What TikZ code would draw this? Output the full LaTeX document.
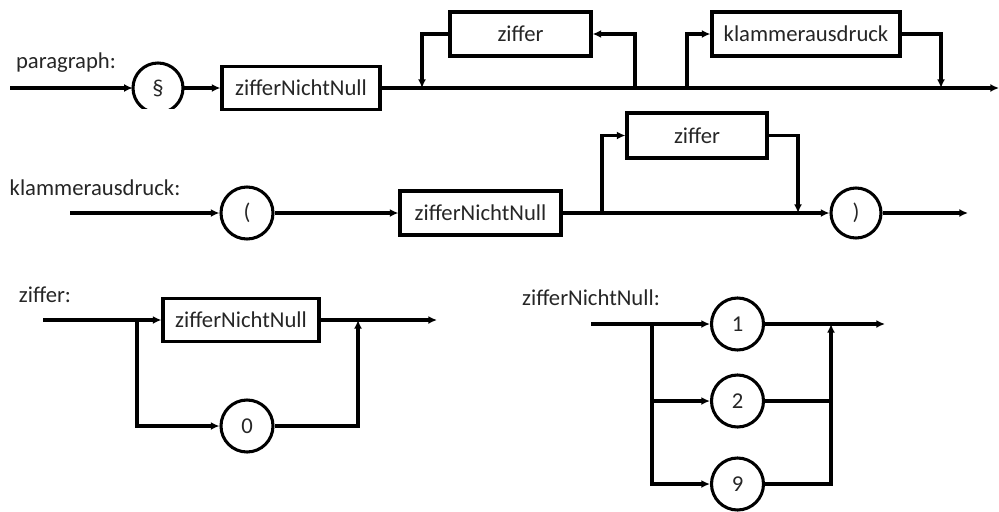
\documentclass[tikz,border=0pt]{standalone}
\usepackage{fontspec}
\setmainfont{Carlito}
\usetikzlibrary{arrows.meta}
\begin{document}
\begin{tikzpicture}[x=0.75pt,y=-0.75pt,
  every node/.style={font=\fontsize{17}{20}\selectfont, text=black!85},
  ln/.style={line width=2.3pt, draw=black},
  ar/.style={ln, -{Latex[length=6.5pt,width=6pt]}},
  boxnode/.style={draw=black, line width=2.3pt, rectangle, inner sep=0pt},
  term/.style={draw=black, line width=2.3pt, circle, inner sep=0pt, minimum size=39pt},
  lbl/.style={inner sep=0pt}]
\useasboundingbox (0,0) rectangle (999,511);

% ---------- paragraph ----------
\node[lbl] (lpar) at (66,63) {paragraph:};
\coordinate (p0) at (10,88);
\node[circle, inner sep=0pt, minimum size=37.5pt] (sect) at (158,88) {§};
\begin{scope}
  \clip (100,40) rectangle (220,108);
  \draw[ln] (sect.center) circle[radius=25];
\end{scope}
\node[boxnode, minimum width=118.5pt, minimum height=32.25pt] (zn1) at (301,88) {zifferNichtNull};
\node[boxnode, minimum width=105.75pt, minimum height=33pt] (zf1) at (520.5,34) {ziffer};
\node[boxnode, minimum width=141pt, minimum height=33pt] (kl1) at (806,34) {klammerausdruck};
\coordinate (pend) at (999,88);
\coordinate (j1) at (635,88);
\coordinate (j2) at (422,88);
\coordinate (j3) at (687,88);
\coordinate (j4) at (941,88);

\draw[ar] (p0) -- (sect.west);
\draw[ar] (sect.east) -- (zn1.west);
\draw[ar] (zn1.east) -- (pend);
\draw[ar] (j1) |- (zf1.east);
\draw[ar] (zf1.west) -| (j2);
\draw[ar] (j3) |- (kl1.west);
\draw[ar] (kl1.east) -| (j4);

% ---------- klammerausdruck ----------
\node[lbl] (lkl) at (95,188) {klammerausdruck:};
\coordinate (k0) at (70,213);
\node[term] (lp) at (247,213) {(};
\node[boxnode, minimum width=120.75pt, minimum height=33pt] (zn2) at (480.5,213) {zifferNichtNull};
\node[term, minimum size=37.5pt] (rp) at (856,213) {)};
\node[boxnode, minimum width=105pt, minimum height=33.75pt] (zf2) at (697,135.5) {ziffer};
\coordinate (kend) at (968,213);
\coordinate (j5) at (602,213);
\coordinate (j6) at (798,213);

\draw[ar] (k0) -- (lp.west);
\draw[ar] (lp.east) -- (zn2.west);
\draw[ar] (zn2.east) -- (rp.west);
\draw[ar] (rp.east) -- (kend);
\draw[ar] (j5) |- (zf2.west);
\draw[ar] (zf2.east) -| (j6);

% ---------- ziffer ----------
\node[lbl] (lzf) at (45,295) {ziffer:};
\coordinate (z0) at (43,320);
\node[boxnode, minimum width=117pt, minimum height=32.25pt] (zn3) at (241,320) {zifferNichtNull};
\node[term] (c0) at (247,426) {0};
\coordinate (zend) at (437,320);
\coordinate (j7) at (137,320);
\coordinate (j8) at (358,320);

\draw[ar] (z0) -- (zn3.west);
\draw[ar] (zn3.east) -- (zend);
\draw[ar] (j7) |- (c0.west);
\draw[ar] (c0.east) -| (j8);

% ---------- zifferNichtNull ----------
\node[lbl] (lzn) at (591,298) {zifferNichtNull:};
\coordinate (n0) at (591,324);
\node[term] (c1) at (737.5,324) {1};
\node[term] (c2) at (737.5,401) {2};
\node[term] (c9) at (737.5,484) {9};
\coordinate (nend) at (885,324);
\coordinate (j9) at (652,324);
\coordinate (j10) at (831,324);

\draw[ar] (n0) -- (c1.west);
\draw[ar] (c1.east) -- (nend);
\draw[ar] (j9) |- (c2.west);
\draw[ar] (j9) |- (c9.west);
\draw[ln] (c2.east) -- (c2.east -| j10);
\draw[ar] (c9.east) -| (j10);
\end{tikzpicture}
\end{document}
